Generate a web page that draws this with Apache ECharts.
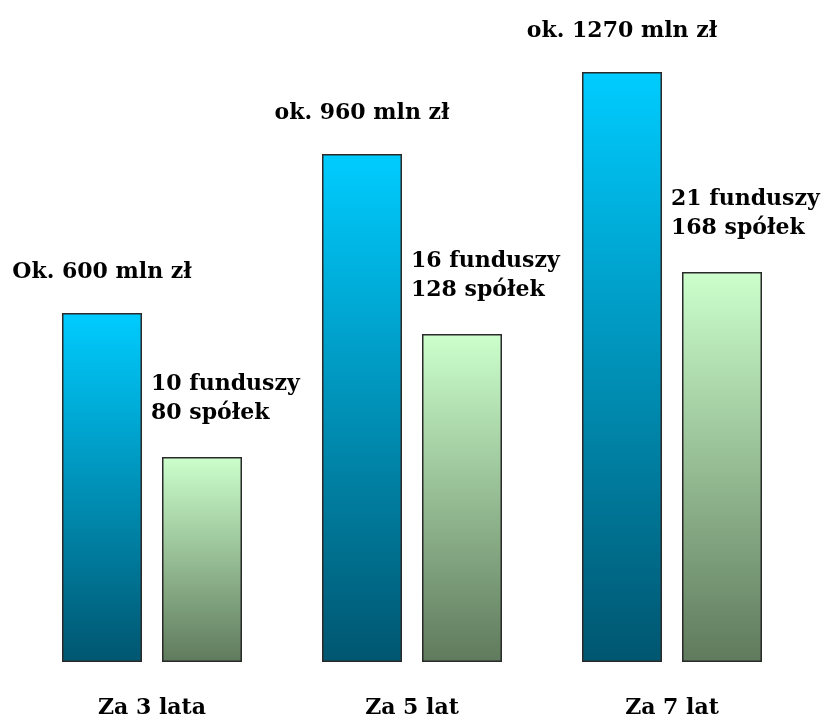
<!DOCTYPE html>
<html>
<head>
<meta charset="utf-8">
<script src="https://cdn.jsdelivr.net/npm/echarts@6/dist/echarts.min.js"></script>
<style>html,body{margin:0;padding:0;background:#fff}#c{width:835px;height:720px}</style>
</head>
<body>
<div id="c"></div>
<script>
// Categories (x axis)
const categories = ["Za 3 lata", "Za 5 lat", "Za 7 lat"];
// Drawn bar heights (relative units)
const capitalHeights = [349, 508, 590];
const fundHeights = [205, 328, 390];
// Text labels shown above bars
const capitalLabels = ["Ok. 600 mln zł", "ok. 960 mln zł", "ok. 1270 mln zł"];
const fundLabels = ["10 funduszy\n80 spółek", "16 funduszy\n128 spółek", "21 funduszy\n168 spółek"];

const FONT = '"DejaVu Serif", "Liberation Serif", serif';
const chart = echarts.init(document.getElementById('c'), null, {renderer: 'canvas'});

const blueGrad = new echarts.graphic.LinearGradient(0, 0, 0, 1, [
  {offset: 0, color: '#00ccff'},
  {offset: 1, color: '#005670'}
]);
const greenGrad = new echarts.graphic.LinearGradient(0, 0, 0, 1, [
  {offset: 0, color: '#ccffcc'},
  {offset: 1, color: '#5f7a5c'}
]);

chart.setOption({
  backgroundColor: '#ffffff',
  animation: false,
  grid: {left: 22, right: 33, top: 62, bottom: 58, containLabel: false},
  xAxis: {
    type: 'category',
    data: categories,
    axisLine: {show: false},
    axisTick: {show: false},
    axisLabel: {margin: 35, fontFamily: FONT, fontWeight: 'bold', fontSize: 22, color: '#000'}
  },
  yAxis: {
    type: 'value', min: 0, max: 600,
    show: false, splitLine: {show: false}
  },
  series: [
    {
      type: 'bar',
      data: capitalHeights,
      barWidth: 80,
      barGap: '25%',
      itemStyle: {color: blueGrad, borderColor: '#2a2a2a', borderWidth: 1.5},
      label: {
        show: true, position: 'top', distance: 30,
        fontFamily: FONT, fontWeight: 'bold', fontSize: 22, color: '#000',
        formatter: p => capitalLabels[p.dataIndex]
      }
    },
    {
      type: 'bar',
      data: fundHeights,
      barWidth: 80,
      itemStyle: {color: greenGrad, borderColor: '#2a2a2a', borderWidth: 1.5},
      label: {
        show: true, position: [-11, -87], align: 'left', verticalAlign: 'top',
        lineHeight: 29,
        fontFamily: FONT, fontWeight: 'bold', fontSize: 22, color: '#000',
        formatter: p => fundLabels[p.dataIndex]
      }
    }
  ]
});
</script>
</body>
</html>
